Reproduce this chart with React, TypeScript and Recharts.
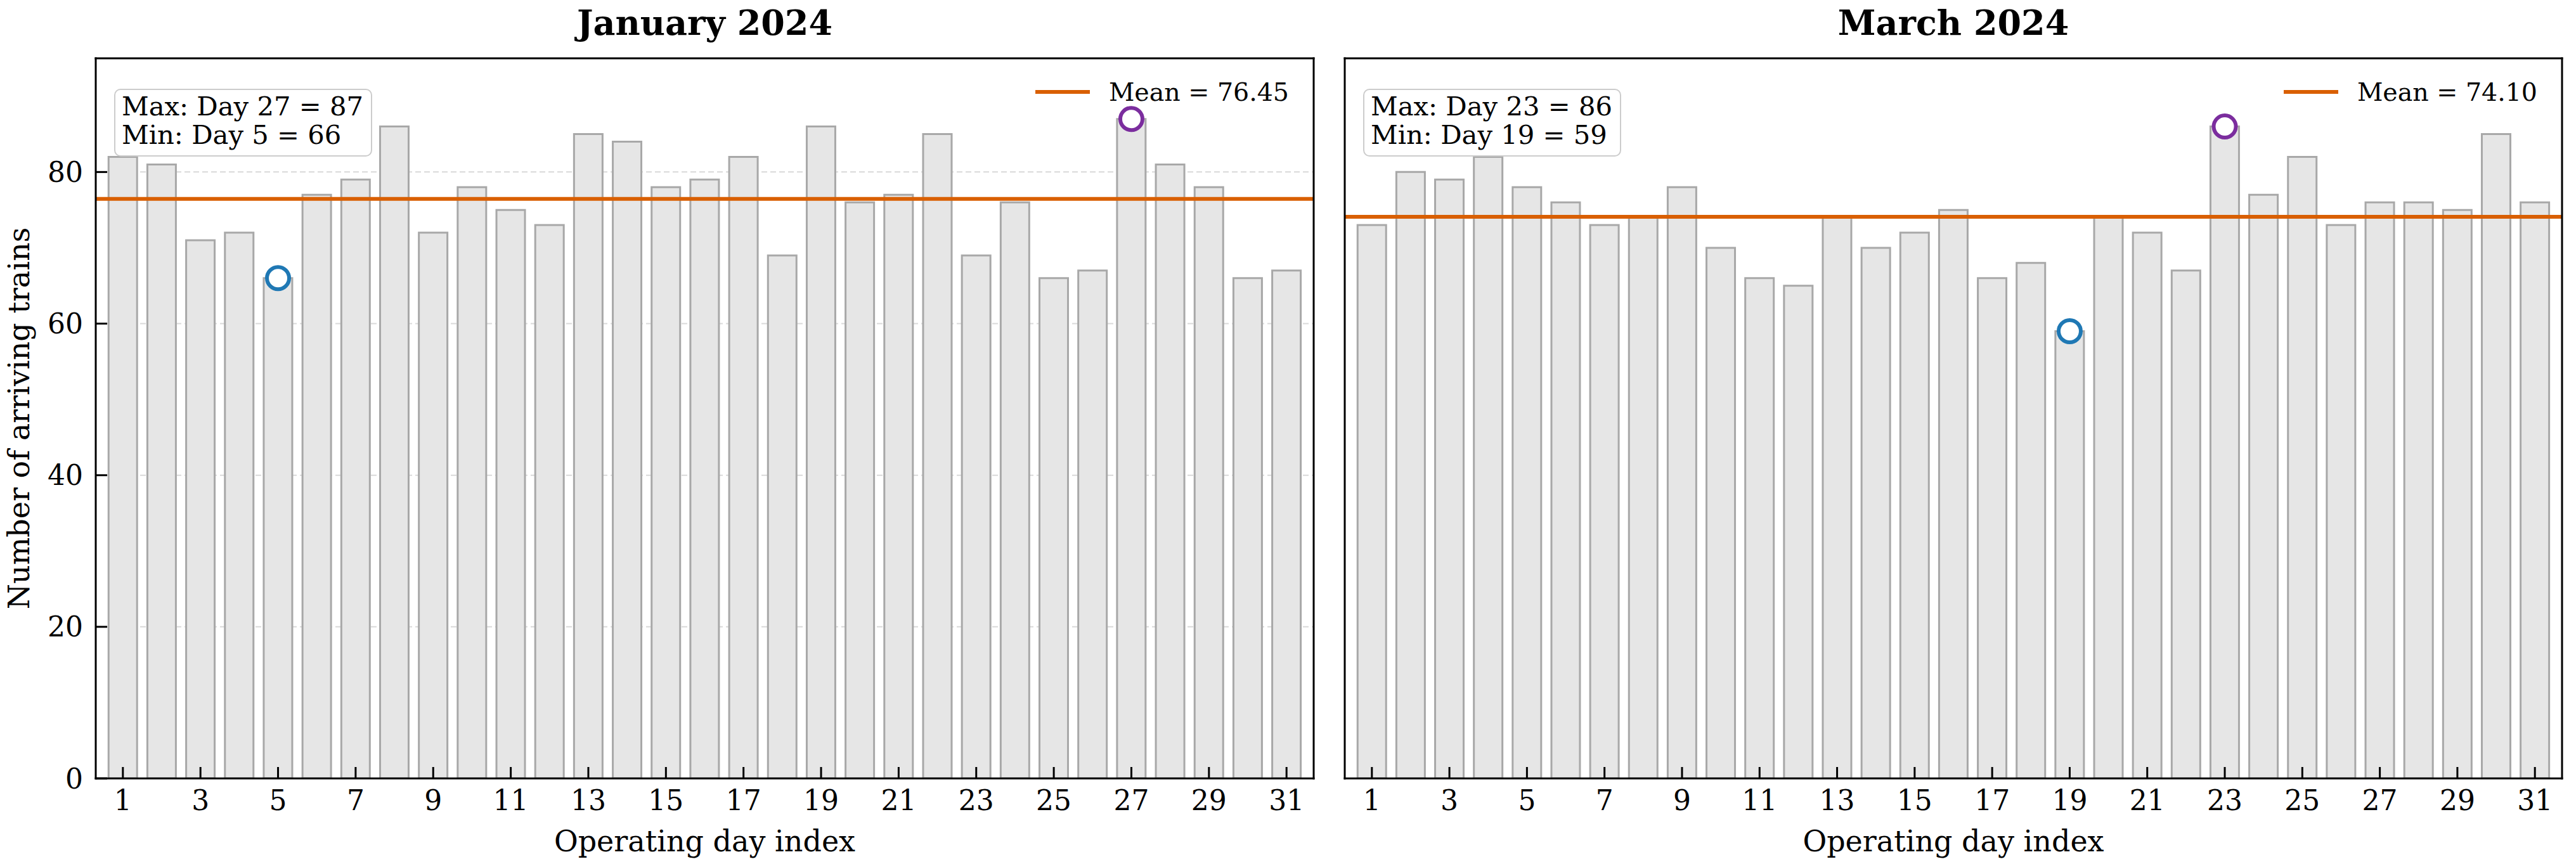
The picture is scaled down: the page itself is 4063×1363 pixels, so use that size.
import {
  Bar,
  BarChart,
  CartesianGrid,
  Legend,
  ReferenceDot,
  ReferenceLine,
  XAxis,
  YAxis,
} from "recharts";

const days = [
  1, 2, 3, 4, 5, 6, 7, 8, 9, 10, 11, 12, 13, 14, 15, 16, 17, 18, 19, 20, 21,
  22, 23, 24, 25, 26, 27, 28, 29, 30, 31,
];
const dayTicks = [1, 3, 5, 7, 9, 11, 13, 15, 17, 19, 21, 23, 25, 27, 29, 31];
const trainTicks = [0, 20, 40, 60, 80];

const januaryTrains = [
  82, 81, 71, 72, 66, 77, 79, 86, 72, 78, 75, 73, 85, 84, 78, 79, 82, 69, 86,
  76, 77, 85, 69, 76, 66, 67, 87, 81, 78, 66, 67,
];
const marchTrains = [
  73, 80, 79, 82, 78, 76, 73, 74, 78, 70, 66, 65, 74, 70, 72, 75, 66, 68, 59,
  74, 72, 67, 86, 77, 82, 73, 76, 76, 75, 85, 76,
];

const FONT = '"DejaVu Serif", "Liberation Serif", serif';
const HEIGHT = 1363;
const PLOT_TOP = 92;
const PLOT_BOTTOM = 1228;

const frameLine = { stroke: "#000", strokeWidth: 3, strokeLinecap: "square" as const };
const tickLine = { stroke: "#000", strokeWidth: 3 };

interface MonthPanelProps {
  title: string;
  values: number[];
  left: number;
  width: number;
  axisWidth: number;
  rightMargin: number;
  showValueLabels?: boolean;
}

function MonthPanel({
  title,
  values,
  left,
  width,
  axisWidth,
  rightMargin,
  showValueLabels = false,
}: MonthPanelProps) {
  const data = days.map((day, i) => ({ day, trains: values[i] }));
  const mean = values.reduce((sum, v) => sum + v, 0) / values.length;
  const maxVal = Math.max(...values);
  const minVal = Math.min(...values);
  const maxDay = days[values.indexOf(maxVal)];
  const minDay = days[values.indexOf(minVal)];

  const plotLeft = axisWidth;
  const plotRight = width - rightMargin - 1;

  return (
    <div
      style={{ position: "absolute", left, top: 0, width, height: HEIGHT }}
    >
      <div
        style={{
          position: "absolute",
          left: plotLeft,
          width: plotRight - plotLeft,
          top: 9,
          textAlign: "center",
          fontSize: 54,
          lineHeight: "54px",
          fontWeight: "bold",
          zIndex: 2,
        }}
      >
        {title}
      </div>

      <BarChart
        width={width}
        height={HEIGHT}
        data={data}
        margin={{ top: PLOT_TOP - 1, right: rightMargin, bottom: 0, left: 0 }}
      >
        <CartesianGrid
          vertical={false}
          stroke="#d9d9d9"
          strokeWidth={2}
          strokeDasharray="9 5"
        />
        <XAxis
          dataKey="day"
          type="number"
          domain={[0.3, 31.7]}
          ticks={dayTicks}
          interval={0}
          allowDataOverflow
          height={HEIGHT - PLOT_BOTTOM}
          tickSize={-18}
          tickMargin={37}
          tick={{ fill: "#000", fontSize: 44 }}
          axisLine={frameLine}
          tickLine={tickLine}
          label={{
            value: "Operating day index",
            position: "insideBottom",
            offset: 20,
            fill: "#000",
            fontSize: 46,
          }}
        />
        <XAxis
          xAxisId="top"
          orientation="top"
          dataKey="day"
          type="number"
          domain={[0.3, 31.7]}
          ticks={dayTicks}
          interval={0}
          allowDataOverflow
          height={1}
          tickSize={-18}
          tick={false}
          axisLine={frameLine}
          tickLine={tickLine}
        />
        <YAxis
          domain={[0, 95]}
          ticks={trainTicks}
          interval={0}
          allowDataOverflow
          width={axisWidth}
          tickSize={-18}
          tickMargin={38}
          tick={showValueLabels ? { fill: "#000", fontSize: 44 } : false}
          axisLine={frameLine}
          tickLine={tickLine}
          label={
            showValueLabels
              ? {
                  value: "Number of arriving trains",
                  angle: -90,
                  position: "insideLeft",
                  offset: 30,
                  fill: "#000",
                  fontSize: 46,
                  style: { textAnchor: "middle" },
                }
              : undefined
          }
        />
        <YAxis
          yAxisId="right"
          orientation="right"
          domain={[0, 95]}
          ticks={trainTicks}
          interval={0}
          allowDataOverflow
          width={1}
          tickSize={-18}
          tick={false}
          axisLine={frameLine}
          tickLine={tickLine}
        />
        <Bar
          dataKey="trains"
          barSize={45}
          fill="#e6e6e6"
          stroke="#a8a8a8"
          strokeWidth={3}
          isAnimationActive={false}
        />
        <ReferenceLine y={mean} stroke="#d95f02" strokeWidth={6} />
        <ReferenceDot
          x={maxDay}
          y={maxVal}
          r={17.5}
          fill="#ffffff"
          stroke="#7b2d9e"
          strokeWidth={6}
        />
        <ReferenceDot
          x={minDay}
          y={minVal}
          r={17.5}
          fill="#ffffff"
          stroke="#1f78b4"
          strokeWidth={6}
        />
        <Legend
          layout="horizontal"
          verticalAlign="middle"
          align="center"
          wrapperStyle={{
            top: 120,
            left: "auto",
            right: width - (plotRight - 39),
            width: "auto",
          }}
          content={() => (
            <div
              style={{
                display: "flex",
                alignItems: "center",
                height: 50,
                fontSize: 39.5,
                color: "#000",
                whiteSpace: "nowrap",
              }}
            >
              <svg width={86} height={8} style={{ marginRight: 30 }}>
                <line
                  x1={0}
                  y1={4}
                  x2={86}
                  y2={4}
                  stroke="#d95f02"
                  strokeWidth={6}
                />
              </svg>
              <span>Mean = {mean.toFixed(2)}</span>
            </div>
          )}
        />
      </BarChart>

      <div
        style={{
          position: "absolute",
          left: plotLeft + 29,
          top: 140,
          padding: "3px 12px 10px 10px",
          border: "2px solid #cccccc",
          borderRadius: 10,
          background: "rgba(255,255,255,0.9)",
          fontSize: 41.7,
          lineHeight: "45px",
          whiteSpace: "nowrap",
          zIndex: 2,
        }}
      >
        <div>
          Max: Day {maxDay} = {maxVal}
        </div>
        <div>
          Min: Day {minDay} = {minVal}
        </div>
      </div>
    </div>
  );
}

export default function App() {
  return (
    <div
      style={{
        position: "absolute",
        left: 0,
        top: 0,
        width: 4063,
        height: HEIGHT,
        background: "#fff",
        fontFamily: FONT,
        color: "#000",
      }}
    >
      <MonthPanel
        title="January 2024"
        values={januaryTrains}
        left={0}
        width={2100}
        axisWidth={151}
        rightMargin={27}
        showValueLabels
      />
      <MonthPanel
        title="March 2024"
        values={marchTrains}
        left={2100}
        width={1963}
        axisWidth={21}
        rightMargin={21}
      />
    </div>
  );
}
